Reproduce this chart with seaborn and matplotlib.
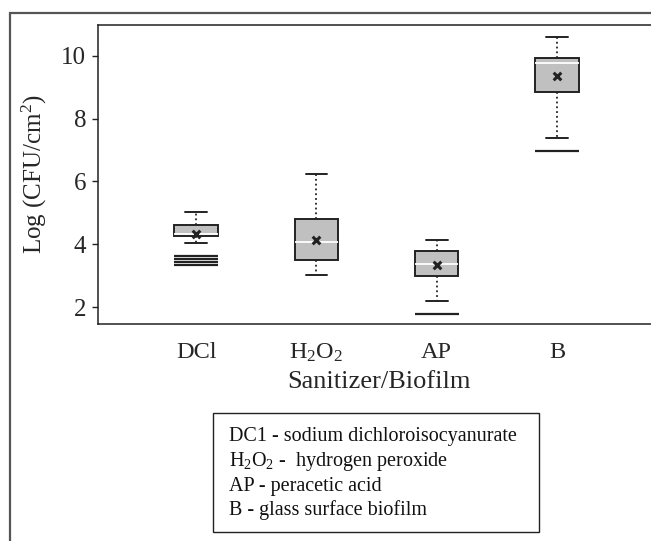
import numpy as np
import pandas as pd
import seaborn as sns
import matplotlib.pyplot as plt
from matplotlib.patches import Rectangle

# values
categories = ["DCl", "H$_2$O$_2$", "AP", "B"]
whisker_low = [4.05, 3.01, 2.18, 7.39]
q1 = [4.26, 3.49, 2.98, 8.85]
median = [4.34, 4.06, 3.36, 9.76]
q3 = [4.60, 4.79, 3.77, 9.94]
whisker_high = [5.03, 6.23, 4.13, 10.61]
means = [4.33, 4.12, 3.33, 9.36]
outlier_cat = ["DCl", "DCl", "DCl", "DCl", "AP", "B"]
outlier_val = [3.62, 3.53, 3.43, 3.35, 1.77, 6.97]

legend_lines = [
    "DC1 - sodium dichloroisocyanurate",
    "H$_2$O$_2$ -  hydrogen peroxide",
    "AP - peracetic acid",
    "B - glass surface biofilm",
]

sns.set_theme(style="white")
plt.rcParams["font.family"] = ["Liberation Serif", "DejaVu Serif"]
plt.rcParams["mathtext.fontset"] = "custom"
plt.rcParams["mathtext.rm"] = "Liberation Serif"
plt.rcParams["mathtext.it"] = "Liberation Serif:italic"
plt.rcParams["mathtext.bf"] = "Liberation Serif:bold"
plt.rcParams["mathtext.default"] = "rm"

# five numbers per group so the box stats come out as read
rows = []
for i, cat in enumerate(categories):
    for v in (whisker_low[i], q1[i], median[i], q3[i], whisker_high[i]):
        rows.append({"group": cat, "value": v})
df = pd.DataFrame(rows)
df_mean = pd.DataFrame({"group": categories, "value": means})
df_out = pd.DataFrame({"group": outlier_cat, "value": outlier_val})

fig = plt.figure(figsize=(6.51, 5.41), dpi=100)
ax = fig.add_axes([98 / 651, 1 - 324 / 541, 562 / 651, 299 / 541])

dark = "#222222"
sns.boxplot(data=df, x="group", y="value", order=categories, whis=(0, 100),
            width=0.36, color="#c0c0c0", linewidth=1.4, showfliers=False,
            boxprops=dict(facecolor="#c0c0c0", edgecolor=dark),
            medianprops=dict(color="white", linewidth=1.3),
            whiskerprops=dict(color=dark, linestyle=":", linewidth=1.3),
            capprops=dict(color=dark, linewidth=1.4),
            ax=ax)
sns.stripplot(data=df_out, x="group", y="value", order=categories, jitter=False,
              marker="_", size=31, linewidth=1.6, color=dark, ax=ax)
sns.stripplot(data=df_mean, x="group", y="value", order=categories, jitter=False,
              marker="x", size=5.5, linewidth=2.2, color=dark, ax=ax)

ax.set_xlim(-0.815, 3.856)
ax.set_ylim(1.46, 10.98)
ax.set_yticks([2, 4, 6, 8, 10])
ax.set_ylabel("Log (CFU/cm$^2$)", fontsize=18, labelpad=9)
ax.set_xlabel("Sanitizer/Biofilm", fontsize=19, labelpad=5)
ax.tick_params(axis="y", left=True, length=4.5, width=1, color=dark, labelsize=18, pad=4)
ax.tick_params(axis="x", bottom=False, labelsize=17.5, pad=7)
for s in ax.spines.values():
    s.set_color(dark)
    s.set_linewidth(1.1)

# explanation box under the chart
fig.patches.append(Rectangle((213 / 651, 1 - 532 / 541), 326 / 651, 119 / 541,
                             transform=fig.transFigure, fill=False,
                             edgecolor=dark, linewidth=1.0))
for k, line in enumerate(legend_lines):
    fig.text(229 / 651, 1 - (437 + 24.5 * k) / 541, line, fontsize=14.5,
             va="center", ha="left", color="#111111")

# outer frame, cut off at right and bottom
fig.patches.append(Rectangle((10 / 651, -0.2), 1.2, 1.2 - 13 / 541,
                             transform=fig.transFigure, fill=False,
                             edgecolor="#555555", linewidth=1.6))

fig.savefig("out.png", dpi=100)
